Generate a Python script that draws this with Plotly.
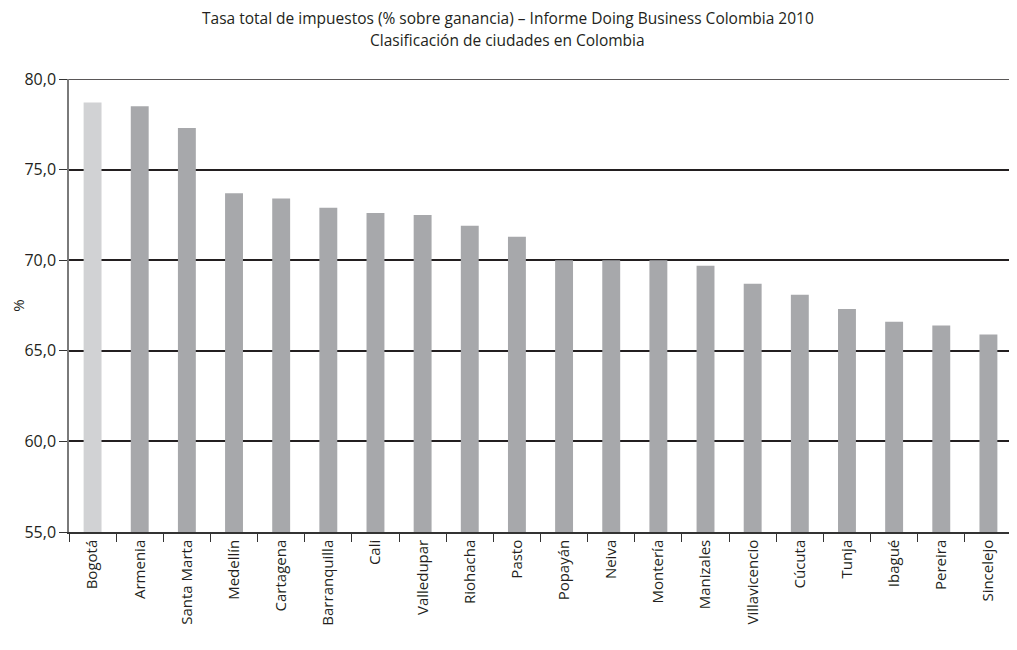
import plotly.graph_objects as go

ciudades = ["Bogotá", "Armenia", "Santa Marta", "Medellín", "Cartagena", "Barranquilla",
            "Cali", "Valledupar", "Riohacha", "Pasto", "Popayán", "Neiva", "Montería",
            "Manizales", "Villavicencio", "Cúcuta", "Tunja", "Ibagué", "Pereira", "Sincelejo"]
tasa = [78.7, 78.5, 77.3, 73.7, 73.4, 72.9, 72.6, 72.5, 71.9, 71.3,
        70.0, 70.0, 70.0, 69.7, 68.7, 68.1, 67.3, 66.6, 66.4, 65.9]
colores = ["#d1d2d4"] + ["#a7a8ab"] * (len(ciudades) - 1)
y_ticks = [55, 60, 65, 70, 75, 80]
titulo = "Tasa total de impuestos (% sobre ganancia) – Informe Doing Business Colombia 2010"
subtitulo = "Clasificación de ciudades en Colombia"

fig = go.Figure(go.Bar(
    x=ciudades, y=tasa, marker=dict(color=colores, line=dict(width=0)),
))

# page has an 8px body margin, so the figure is sized/offset to compensate
fig.update_layout(
    width=1009, height=642,
    paper_bgcolor="white", plot_bgcolor="white",
    margin=dict(l=61, r=5, t=71, b=118),
    separators=",.",
    bargap=0.62,
    font=dict(family="Open Sans", color="#231f20", size=14),
    showlegend=False,
    annotations=[
        dict(text=titulo, xref="paper", yref="paper", x=0.4655, y=1.1347,
             xanchor="center", yanchor="middle", showarrow=False,
             font=dict(size=15.5, color="#231f20")),
        dict(text=subtitulo, xref="paper", yref="paper", x=0.4655, y=1.0861,
             xanchor="center", yanchor="middle", showarrow=False,
             font=dict(size=15.5, color="#231f20")),
    ],
    shapes=[dict(type="line", xref="paper", x0=0, x1=1, yref="y",
                 y0=y_ticks[-1], y1=y_ticks[-1],
                 line=dict(color="#231f20", width=1.6), layer="below")],
)

fig.update_yaxes(
    range=[55, 80], tickvals=y_ticks, tickformat=".1f",
    showgrid=True, gridcolor="#231f20", gridwidth=1.6,
    showline=True, linecolor="#7a7a7a", linewidth=1.5,
    ticks="outside", ticklen=8, tickcolor="#333333", tickwidth=1,
    tickfont=dict(size=16), zeroline=False, automargin=False,
    title=dict(text="%", font=dict(size=15), standoff=18),
)
fig.update_xaxes(
    showline=True, linecolor="#333333", linewidth=1.5,
    ticks="outside", tickson="boundaries", ticklen=8, tickcolor="#333333", tickwidth=1.2,
    tickangle=-90, tickfont=dict(size=15), automargin=False,
)

fig.write_html("out.html")
